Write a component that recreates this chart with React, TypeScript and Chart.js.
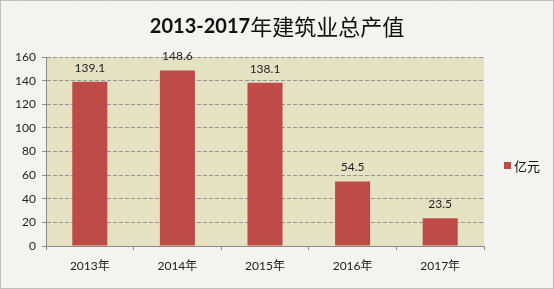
import React, { useEffect, useRef } from "react";
import { Chart, registerables } from "chart.js";

Chart.register(...registerables);

const categories = ["2013年", "2014年", "2015年", "2016年", "2017年"];
const seriesLabel = "亿元";
const values = [139.1, 148.6, 138.1, 54.5, 23.5];
const titleLatin = "2013-2017";
const titleCJK = "年建筑业总产值";
const yMin = 0;
const yMax = 160;
const yStep = 20;

const LATIN = "Lato, 'Noto Sans CJK SC', sans-serif";
const CJK = "'Noto Sans CJK SC', sans-serif";
const BAR = "#BE4B48";

export default function App() {
  const ref = useRef<HTMLCanvasElement | null>(null);

  useEffect(() => {
    document.body.style.margin = "0";
    const canvas = ref.current!;
    const decor = {
      id: "decor",
      beforeDraw(chart: any) {
        const { ctx, chartArea: a, width, height } = chart;
        ctx.save();
        ctx.fillStyle = "#F3F3F1";
        ctx.fillRect(0, 0, width, height);
        ctx.strokeStyle = "#8A8A8A";
        ctx.setLineDash([1, 1]);
        ctx.lineWidth = 1;
        ctx.strokeRect(0.5, 0.5, width - 1, height - 1);
        ctx.setLineDash([]);
        ctx.fillStyle = "#E5E2C3";
        ctx.fillRect(a.left, a.top, a.right - a.left, a.bottom - a.top);
        ctx.restore();
      },
      afterDraw(chart: any) {
        const { ctx } = chart;
        ctx.save();
        // title
        ctx.textBaseline = "middle";
        ctx.fillStyle = "#111";
        ctx.font = "bold 20px " + LATIN;
        const w1 = ctx.measureText(titleLatin).width;
        ctx.font = "22px " + CJK;
        const w2 = ctx.measureText(titleCJK).width;
        const cx = 277;
        const x = cx - (w1 + w2) / 2;
        ctx.textAlign = "left";
        ctx.font = "bold 20px " + LATIN;
        ctx.fillText(titleLatin, x, 27);
        ctx.font = "22px " + CJK;
        ctx.fillText(titleCJK, x + w1, 27);
        // data labels
        ctx.font = "12px " + LATIN;
        ctx.fillStyle = "#222";
        ctx.textAlign = "center";
        const meta = chart.getDatasetMeta(0);
        meta.data.forEach((el: any, i: number) => {
          ctx.fillText(String(values[i]), el.x, el.y - 14);
        });
        // legend
        const ds = chart.data.datasets[0];
        ctx.fillStyle = ds.backgroundColor;
        ctx.fillRect(504, 162, 7, 7);
        ctx.fillStyle = "#111";
        ctx.textAlign = "left";
        ctx.font = "13px " + CJK;
        ctx.fillText(ds.label, 514, 166);
        ctx.restore();
      },
    };

    const chart = new Chart(canvas, {
      type: "bar",
      data: {
        labels: categories,
        datasets: [
          {
            label: seriesLabel,
            data: values,
            backgroundColor: BAR,
            categoryPercentage: 1,
            barPercentage: 0.4,
          },
        ],
      },
      options: {
        responsive: false,
        animation: false,
        layout: { padding: { top: 57, left: 0, right: 70, bottom: 0 } },
        plugins: {
          legend: { display: false },
          title: { display: false },
          tooltip: { enabled: false },
        },
        scales: {
          x: {
            afterFit(s: any) {
              s.height = 43;
            },
            border: { color: "#8C8C8C" },
            grid: {
              offset: true,
              drawOnChartArea: false,
              drawTicks: true,
              tickLength: 4,
              color: "#8C8C8C",
            },
            ticks: {
              color: "#222",
              padding: 9,
              font: { family: LATIN, size: 12 },
            },
          },
          y: {
            min: yMin,
            max: yMax,
            afterFit(s: any) {
              s.width = 46;
            },
            border: { color: "#8C8C8C", dash: [4, 2] },
            grid: {
              color: "#959595",
              tickLength: 4,
              tickColor: "#8C8C8C",
              tickBorderDash: [],
            },
            ticks: {
              stepSize: yStep,
              color: "#222",
              padding: 6,
              font: { family: LATIN, size: 12 },
            },
          },
        },
      } as any,
      plugins: [decor],
    });
    return () => chart.destroy();
  }, []);

  return <canvas ref={ref} width={554} height={289} style={{ display: "block" }} />;
}
